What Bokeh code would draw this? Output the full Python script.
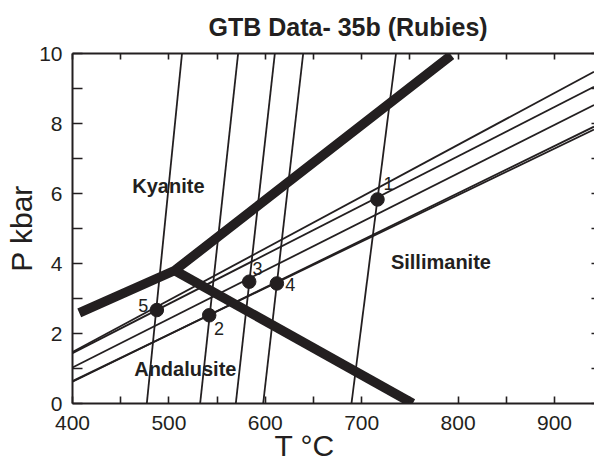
from bokeh.plotting import figure
from bokeh.models import LinearAxis, FixedTicker, Label, Range1d, Title
from bokeh.embed import file_html
from bokeh.resources import INLINE

# ---------------- data ----------------
# steep garnet-biotite lines: T (deg C) at P = 0 and at P = 10 kbar
garb_p_ends = [0, 10]
garb_t_at_p0 = [477.1, 532.4, 569.4, 597.8, 689.4]
garb_t_at_p10 = [513.6, 571.8, 609.9, 639.3, 735.6]

# shallow barometer lines: P (kbar) at T = 400 and at T = 941
gasp_t_ends = [400, 941]
gasp_p_at_t400 = [1.47, 1.44, 1.03, 0.62, 0.64]
gasp_p_at_t941 = [9.48, 9.05, 8.53, 7.91, 7.83]

# P-T results of the five samples
sample_ids = ["1", "2", "3", "4", "5"]
sample_t = [716.4, 541.8, 583.3, 612.0, 487.5]
sample_p = [5.83, 2.52, 3.48, 3.43, 2.67]
sample_label_t = [727.8, 552.0, 591.9, 625.8, 473.3]
sample_label_p = [6.28, 2.14, 3.86, 3.40, 2.79]

# Al2SiO5 phase boundaries
kyanite_t = [407, 506, 793]      # Ky-And then Ky-Sil
kyanite_p = [2.59, 3.80, 9.95]
and_sil_t = [506, 753]
and_sil_p = [3.80, 0.0]

phase_names = ["Kyanite", "Sillimanite", "Andalusite"]
phase_t = [462.0, 730.3, 464.0]
phase_p = [6.21, 4.03, 0.99]

x_major = [400, 500, 600, 700, 800, 900]
x_minor = [450, 550, 650, 750, 850, 950]
y_major = [0, 2, 4, 6, 8, 10]
y_minor = [1, 3, 5, 7, 9]

title_text = "GTB Data- 35b (Rubies)"
x_label_text = "T \u00b0C"
y_label_text = "P kbar"

INK = "#231f20"
FONT = "Liberation Sans"

p = figure(width=594, height=463, title=None,
           x_range=Range1d(400, 941.5), y_range=Range1d(0, 10),
           output_backend="svg", toolbar_location=None,
           x_axis_location=None, y_axis_location=None,
           min_border_left=72, min_border_right=0,
           min_border_top=53, min_border_bottom=60)
p.outline_line_color = None
p.xgrid.visible = False
p.ygrid.visible = False
p.background_fill_color = "white"
p.border_fill_color = "white"


def make_axis(kind, loc, tick_len, show_labels, show_line=True):
    ax = LinearAxis()
    major = x_major if kind == "x" else y_major
    minor = x_minor if kind == "x" else y_minor
    if show_labels:
        ax.ticker = FixedTicker(ticks=major, minor_ticks=minor)
    else:
        ax.ticker = FixedTicker(ticks=[], minor_ticks=sorted(major + minor))
    ax.major_tick_in = tick_len
    ax.major_tick_out = 0
    ax.minor_tick_in = tick_len
    ax.minor_tick_out = 0
    ax.major_tick_line_color = INK
    ax.minor_tick_line_color = INK
    ax.major_tick_line_width = 1.6
    ax.minor_tick_line_width = 1.6
    if show_line:
        ax.axis_line_color = INK
        ax.axis_line_width = 2
    else:
        ax.axis_line_color = None
    ax.major_label_text_font = FONT
    ax.major_label_text_font_size = "21px"
    ax.major_label_text_color = INK
    ax.major_label_standoff = (10 if kind == "y" else 12) if show_labels else 0
    p.add_layout(ax, loc)
    return ax


make_axis("x", "below", 7, True)
make_axis("x", "above", 6, False)
make_axis("y", "left", 10, True)
make_axis("y", "right", 3, False, show_line=False)

# title and axis labels (added after the axes so they sit outside them)
p.add_layout(Title(text=title_text, text_font=FONT, text_font_size="25px",
                   text_font_style="bold", text_color=INK, align="left",
                   vertical_align="top", offset=136, standoff=22), "above")
p.add_layout(Title(text=x_label_text, text_font=FONT, text_font_size="30px",
                   text_font_style="normal", text_color=INK, align="left",
                   vertical_align="top", offset=202, standoff=-7), "below")
p.add_layout(Title(text=y_label_text, text_font=FONT, text_font_size="30px",
                   text_font_style="normal", text_color=INK, align="center",
                   vertical_align="top", standoff=-7), "left")

# steep lines
for t0, t1 in zip(garb_t_at_p0, garb_t_at_p10):
    p.line([t0, t1], garb_p_ends, line_color=INK, line_width=1.8)

# shallow lines
for p0, p1 in zip(gasp_p_at_t400, gasp_p_at_t941):
    p.line(gasp_t_ends, [p0, p1], line_color=INK, line_width=1.8)

# phase boundaries (thick)
p.line(kyanite_t, kyanite_p, line_color=INK, line_width=9.5,
       line_join="miter", line_cap="butt")
p.line(and_sil_t, and_sil_p, line_color=INK, line_width=9.5, line_cap="butt")

# sample points
p.scatter(sample_t, sample_p, size=13.5, fill_color=INK, line_color=INK,
          marker="circle")

for sid, lt, lp in zip(sample_ids, sample_label_t, sample_label_p):
    p.add_layout(Label(x=lt, y=lp, text=sid, text_font=FONT,
                       text_font_size="18px", text_color=INK,
                       text_align="center", text_baseline="middle"))

for name, t, pp in zip(phase_names, phase_t, phase_p):
    p.add_layout(Label(x=t, y=pp, text=name, text_font=FONT,
                       text_font_size="20px", text_font_style="bold",
                       text_color=INK, text_align="left",
                       text_baseline="alphabetic"))

open("out.html", "w").write(file_html(p, INLINE))
